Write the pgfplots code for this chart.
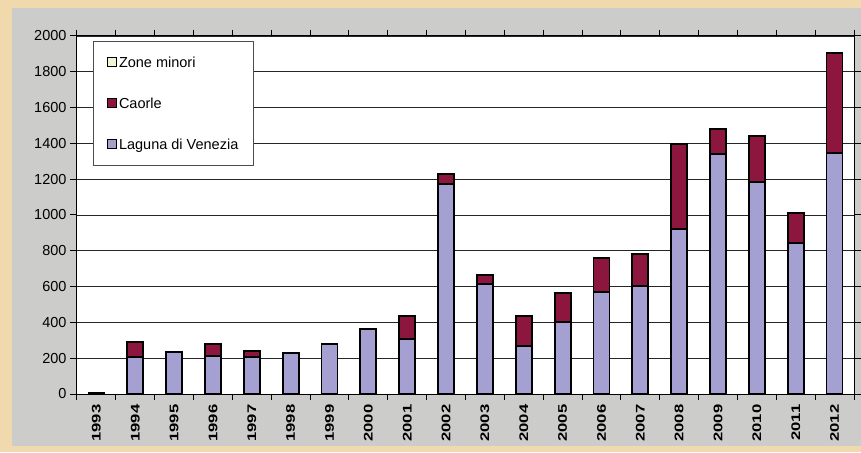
\documentclass[border=0pt]{standalone}
\usepackage{pgfplots}
\pgfplotsset{compat=1.18}
\usepackage{fontspec}
\setmainfont{Liberation Sans}
\definecolor{bgbeige}{RGB}{240,217,172}
\definecolor{panelgray}{RGB}{204,204,202}
\definecolor{laguna}{RGB}{165,160,210}
\definecolor{caorle}{RGB}{140,22,62}
\definecolor{zone}{RGB}{240,245,215}
\newcommand{\yl}[1]{\scalebox{1.33}[1]{#1}}
\begin{document}
\begin{tikzpicture}[x=1pt,y=1pt]
\useasboundingbox (0,0) rectangle (861,452);
\fill[bgbeige] (0,0) rectangle (861,452);
\fill[panelgray] (12,6) rectangle (861,444);
\begin{axis}[
  at={(77pt,58pt)}, anchor=south west,
  scale only axis, width=777pt, height=358pt,
  ybar stacked, bar width=16pt,
  xmin=1992.5, xmax=2012.5, ymin=0, ymax=2000,
  xtick=data,
  minor xtick={1992.5,1993.5,...,2012.5},
  ytick={0,200,...,2000},
  tick align=outside,
  major tick length=7pt, minor tick length=6pt,
  major x tick style={draw=none},
  minor x tick style={black, line width=1pt},
  major y tick style={black, line width=1pt},
  ymajorgrids,
  major grid style={black!85, line width=0.9pt},
  axis background/.style={fill=white},
  axis line style={black, line width=1pt},
  /pgf/number format/assume math mode=true,
  xticklabels={\yl{1993},\yl{1994},\yl{1995},\yl{1996},\yl{1997},\yl{1998},\yl{1999},\yl{2000},\yl{2001},\yl{2002},\yl{2003},\yl{2004},\yl{2005},\yl{2006},\yl{2007},\yl{2008},\yl{2009},\yl{2010},\yl{2011},\yl{2012}},
  xticklabel style={rotate=90, anchor=east, font=\bfseries\fontsize{12.5}{12.5}\selectfont},
  yticklabel={\pgfmathprintnumber[1000 sep={},fixed,precision=0]{\tick}},
  yticklabel style={font=\fontsize{14.5}{15}\selectfont},
  legend style={at={(0.0206,0.986)}, anchor=north west, draw=black!70, line width=1pt,
    fill=white, font=\fontsize{14.5}{15}\selectfont, row sep=25pt,
    inner xsep=13pt, inner ysep=13pt, cells={anchor=west}},
  reverse legend,
  legend image code/.code={\draw[#1, draw=black, line width=1.5pt] (0pt,-4pt) rectangle (9pt,5pt);},
]
\addplot[fill=laguna, draw=black, line width=1.8pt] coordinates {
(1993,8) (1994,205) (1995,233) (1996,214) (1997,205) (1998,229) (1999,281)
(2000,363) (2001,307) (2002,1175) (2003,613) (2004,270) (2005,402) (2006,572)
(2007,602) (2008,924) (2009,1339) (2010,1184) (2011,845) (2012,1348)};
\addlegendentry{Laguna di Venezia}
\addplot[fill=caorle, draw=black, line width=1.8pt] coordinates {
(1993,0) (1994,85) (1995,0) (1996,67) (1997,33) (1998,0) (1999,0)
(2000,0) (2001,127) (2002,52) (2003,50) (2004,167) (2005,162) (2006,190)
(2007,178) (2008,471) (2009,141) (2010,256) (2011,166) (2012,555)};
\addlegendentry{Caorle}
\addlegendimage{fill=zone, draw=black}
\addlegendentry{Zone minori}
\end{axis}
\end{tikzpicture}
\end{document}
